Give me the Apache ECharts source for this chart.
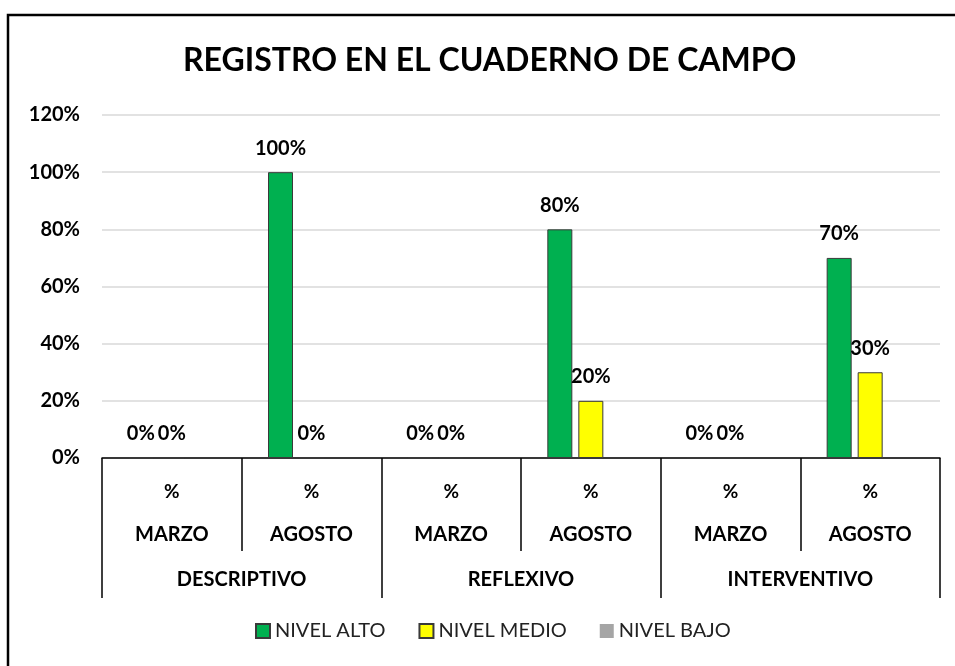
<!DOCTYPE html>
<html>
<head>
<meta charset="utf-8">
<script src="https://cdn.jsdelivr.net/npm/echarts@6/dist/echarts.min.js"></script>
<style>
  html, body { margin: 0; padding: 0; background: #fff; }
  #chart { width: 955px; height: 666px; }
</style>
</head>
<body>
<div id="chart"></div>
<script>
  var font = 'Lato';
  var percentRow = ['%', '%', '%', '%', '%', '%'];
  var months = ['MARZO', 'AGOSTO', 'MARZO', 'AGOSTO', 'MARZO', 'AGOSTO'];
  var groups = ['DESCRIPTIVO', 'REFLEXIVO', 'INTERVENTIVO'];
  var yTicks = [0, 20, 40, 60, 80, 100, 120];

  var nivelAlto = [0, 100, 0, 80, 0, 70];
  var nivelMedio = [0, 0, 0, 20, 0, 30];
  var nivelBajo = ['-', '-', '-', '-', '-', '-'];

  var chart = echarts.init(document.getElementById('chart'));

  var valueLabel = {
    show: true,
    position: 'top',
    distance: 14,
    fontFamily: font,
    fontWeight: 'bold',
    fontSize: 20,
    color: '#000',
    formatter: function (p) { return p.value + '%'; }
  };

  function barSeries (name, data, color, border) {
    return {
      name: name,
      type: 'bar',
      xAxisIndex: 0,
      data: data,
      barWidth: 25,
      barGap: '24%',
      itemStyle: {
        color: color,
        borderColor: border ? '#3a3a3a' : color,
        borderWidth: border ? 1 : 0
      },
      label: valueLabel
    };
  }

  var option = {
    backgroundColor: '#fff',
    animation: false,
    title: {
      text: 'REGISTRO EN EL CUADERNO DE CAMPO',
      left: 178,
      top: 40,
      textStyle: {
        fontFamily: font,
        fontWeight: 'bold',
        fontSize: 32,
        color: '#000'
      }
    },
    graphic: [{
      type: 'rect',
      shape: { x: 8, y: 15, width: 980, height: 700 },
      style: { fill: 'none', stroke: '#000', lineWidth: 2.5 },
      silent: true
    }],
    legend: {
      bottom: 20,
      left: 250,
      itemWidth: 14,
      itemHeight: 14,
      itemGap: 33,
      icon: 'rect',
      data: ['NIVEL ALTO', 'NIVEL MEDIO', 'NIVEL BAJO'],
      textStyle: { fontFamily: font, fontSize: 20, color: '#222' }
    },
    grid: {
      left: 102,
      right: 15,
      top: 115,
      bottom: 208
    },
    xAxis: [{
      type: 'category',
      data: percentRow,
      position: 'bottom',
      axisLine: { lineStyle: { color: '#000', width: 1.5 } },
      axisTick: { show: true, interval: 0, length: 93, lineStyle: { color: '#000', width: 1.5 } },
      axisLabel: {
        interval: 0, margin: 24,
        fontFamily: font, fontWeight: 'bold', fontSize: 19, color: '#000'
      }
    }, {
      type: 'category',
      data: months,
      position: 'bottom',
      axisLine: { show: false },
      axisTick: { show: false },
      axisLabel: {
        interval: 0, margin: 67,
        fontFamily: font, fontWeight: 'bold', fontSize: 20, color: '#000'
      }
    }, {
      type: 'category',
      data: groups,
      position: 'bottom',
      axisLine: { show: false },
      axisTick: { show: true, interval: 0, length: 140, lineStyle: { color: '#000', width: 1.5 } },
      axisLabel: {
        interval: 0, margin: 112,
        fontFamily: font, fontWeight: 'bold', fontSize: 20, color: '#000'
      }
    }],
    yAxis: {
      type: 'value',
      min: yTicks[0],
      max: yTicks[yTicks.length - 1],
      interval: 20,
      axisLine: { show: false },
      axisTick: { show: false },
      splitLine: { lineStyle: { color: '#d9d9d9', width: 1.5 } },
      axisLabel: {
        margin: 22,
        fontFamily: font, fontWeight: 'bold', fontSize: 20, color: '#000',
        formatter: function (v) { return v + '%'; }
      }
    },
    series: [
      barSeries('NIVEL ALTO', nivelAlto, '#00b050', true),
      barSeries('NIVEL MEDIO', nivelMedio, '#ffff00', true),
      barSeries('NIVEL BAJO', nivelBajo, '#a5a5a5', false)
    ]
  };

  chart.setOption(option);
</script>
</body>
</html>
